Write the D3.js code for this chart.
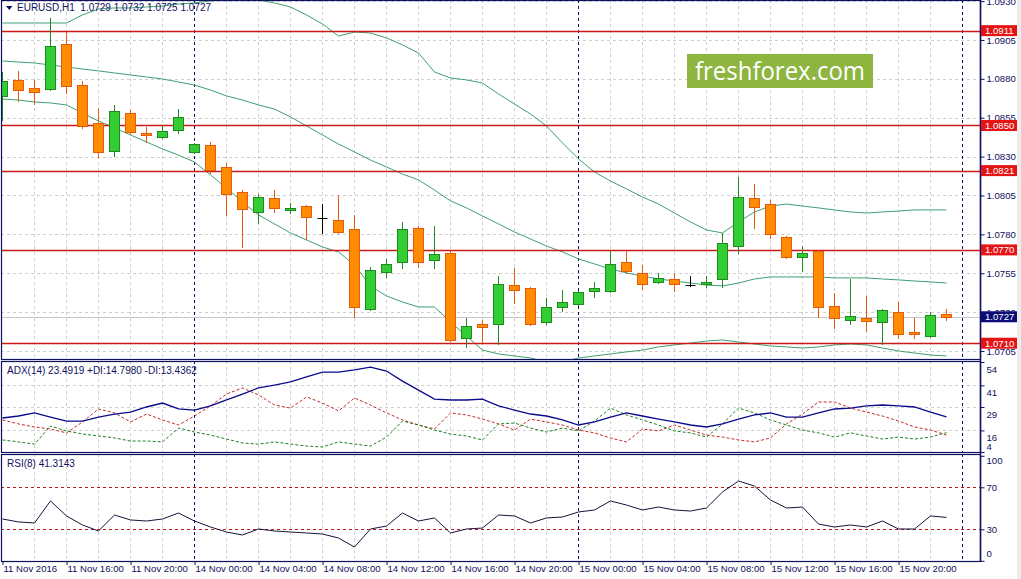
<!DOCTYPE html>
<html><head><meta charset="utf-8">
<script src="https://cdn.jsdelivr.net/npm/d3@7"></script>
<style>
body{margin:0;background:#fff;overflow:hidden}
svg{display:block}
text{font-family:"Liberation Sans",Arial,sans-serif}
</style>
</head><body>
<svg id="c" width="1021" height="579"></svg>
<script>
// ---------- DATA ----------
const symbolTitle = "EURUSD,H1  1.0729 1.0732 1.0725 1.0727";
const adxTitle = "ADX(14) 23.4919 +DI:14.7980 -DI:13.4362";
const rsiTitle = "RSI(8) 41.3143";
const brand = "freshforex.com";

const timeLabels = ["11 Nov 2016","11 Nov 16:00","11 Nov 20:00","14 Nov 00:00","14 Nov 04:00","14 Nov 08:00","14 Nov 12:00","14 Nov 16:00","14 Nov 20:00","15 Nov 00:00","15 Nov 04:00","15 Nov 08:00","15 Nov 12:00","15 Nov 16:00","15 Nov 20:00"];
const timeLabelBars = [0,4,8,12,16,20,24,28,32,36,40,44,48,52,56];
const daySeparatorBars = [12,36,60];

const openP  = [1.08690,1.08793,1.08741,1.08735,1.09024,1.08760,1.08516,1.08336,1.08580,1.08452,1.08426,1.08471,1.08330,1.08375,1.08233,1.08072,1.07944,1.08034,1.07957,1.07982,1.07905,1.07892,1.07835,1.07320,1.07558,1.07622,1.07841,1.07635,1.07680,1.07134,1.07224,1.07224,1.07474,1.07455,1.07236,1.07333,1.07352,1.07436,1.07436,1.07622,1.07552,1.07494,1.07513,1.07474,1.07481,1.07513,1.07725,1.08034,1.07995,1.07783,1.07655,1.07693,1.07339,1.07249,1.07262,1.07236,1.07301,1.07172,1.07146,1.07290];
const highP  = [1.08844,1.08851,1.08793,1.09191,1.09101,1.08786,1.08613,1.08632,1.08600,1.08490,1.08497,1.08606,1.08388,1.08394,1.08259,1.08085,1.08060,1.08085,1.08002,1.07989,1.07995,1.08053,1.07925,1.07590,1.07642,1.07880,1.07854,1.07854,1.07693,1.07262,1.07249,1.07532,1.07584,1.07462,1.07391,1.07442,1.07436,1.07494,1.07693,1.07693,1.07603,1.07552,1.07545,1.07532,1.07532,1.07809,1.08169,1.08124,1.08021,1.07790,1.07725,1.07700,1.07423,1.07513,1.07404,1.07320,1.07365,1.07262,1.07301,1.07320];
const lowP   = [1.08535,1.08658,1.08638,1.08728,1.08709,1.08484,1.08298,1.08304,1.08445,1.08394,1.08419,1.08452,1.08323,1.08195,1.07925,1.07719,1.07873,1.07944,1.07937,1.07770,1.07809,1.07809,1.07269,1.07314,1.07526,1.07584,1.07590,1.07584,1.07114,1.07076,1.07108,1.07093,1.07359,1.07217,1.07224,1.07307,1.07346,1.07399,1.07429,1.07552,1.07449,1.07487,1.07436,1.07468,1.07462,1.07462,1.07680,1.07841,1.07777,1.07648,1.07565,1.07269,1.07198,1.07224,1.07179,1.07093,1.07134,1.07134,1.07140,1.07250];
const closeP = [1.08786,1.08728,1.08715,1.09011,1.08753,1.08497,1.08330,1.08593,1.08458,1.08439,1.08465,1.08555,1.08381,1.08214,1.08060,1.07963,1.08040,1.07969,1.07969,1.07912,1.07905,1.07815,1.07333,1.07571,1.07610,1.07835,1.07622,1.07674,1.07121,1.07211,1.07204,1.07481,1.07442,1.07224,1.07333,1.07365,1.07429,1.07455,1.07610,1.07565,1.07481,1.07520,1.07481,1.07474,1.07494,1.07745,1.08040,1.07976,1.07802,1.07655,1.07680,1.07333,1.07262,1.07275,1.07243,1.07314,1.07159,1.07159,1.07281,1.07270];

const bbUpper  = [1.09159,1.09159,1.09159,1.09159,1.09159,1.09211,1.09249,1.09256,1.09256,1.09262,1.09268,1.09281,1.09288,1.09301,1.09307,1.09313,1.09307,1.09288,1.09262,1.09211,1.09153,1.09075,1.09101,1.09095,1.09063,1.09018,1.08966,1.08844,1.08806,1.08793,1.08773,1.08703,1.08638,1.08574,1.08497,1.08388,1.08285,1.08201,1.08143,1.08092,1.08040,1.07995,1.07937,1.07880,1.07828,1.07809,1.07880,1.07944,1.07982,1.07995,1.07982,1.07970,1.07957,1.07944,1.07937,1.07944,1.07950,1.07957,1.07957,1.07957];
const bbMiddle = [1.08915,1.08908,1.08902,1.08889,1.08876,1.08863,1.08851,1.08838,1.08825,1.08812,1.08799,1.08780,1.08760,1.08728,1.08690,1.08664,1.08632,1.08606,1.08555,1.08497,1.08439,1.08381,1.08330,1.08278,1.08233,1.08188,1.08150,1.08085,1.08015,1.07970,1.07918,1.07867,1.07815,1.07770,1.07725,1.07687,1.07642,1.07610,1.07577,1.07552,1.07532,1.07513,1.07500,1.07487,1.07474,1.07468,1.07487,1.07513,1.07526,1.07526,1.07526,1.07526,1.07520,1.07520,1.07520,1.07513,1.07507,1.07500,1.07494,1.07487];
const bbLower  = [1.08670,1.08664,1.08651,1.08645,1.08632,1.08580,1.08529,1.08484,1.08439,1.08394,1.08349,1.08310,1.08265,1.08182,1.08098,1.08008,1.07925,1.07867,1.07809,1.07764,1.07719,1.07687,1.07603,1.07468,1.07404,1.07365,1.07333,1.07333,1.07236,1.07146,1.07056,1.07031,1.07018,1.07005,1.06979,1.06979,1.07005,1.07018,1.07031,1.07044,1.07056,1.07076,1.07089,1.07101,1.07114,1.07121,1.07108,1.07095,1.07082,1.07076,1.07069,1.07076,1.07089,1.07095,1.07089,1.07069,1.07050,1.07037,1.07024,1.07018];

const adxLine = [22.9,24.0,25.7,23.4,21.2,21.2,23.4,25.1,26.2,29.0,31.2,27.9,27.3,29.6,32.9,36.2,39.6,41.2,42.9,45.7,48.4,48.4,49.6,51.2,49.0,43.4,38.4,33.4,32.9,32.9,33.4,29.6,27.3,25.1,24.0,21.8,19.0,20.7,23.4,25.7,24.0,22.3,20.7,19.0,17.9,19.6,22.3,24.6,25.7,23.4,23.4,25.7,27.9,28.4,29.6,30.1,29.6,29.0,26.2,23.49];
const plusDI  = [10.7,9.6,8.4,18.4,15.7,14.0,12.9,11.8,10.1,10.1,9.6,17.3,15.1,13.4,11.2,9.0,8.4,9.6,8.4,7.3,6.8,9.6,8.4,7.3,12.3,21.2,19.0,16.2,14.0,12.9,10.7,19.6,20.1,17.3,15.1,17.3,15.7,21.2,28.4,24.6,21.8,19.0,15.7,14.6,12.3,19.6,28.4,25.7,21.8,19.0,16.2,14.6,12.3,14.6,12.9,11.2,12.3,11.2,12.3,14.80];
const minusDI = [21.8,19.6,17.9,16.8,14.6,20.7,27.9,25.7,20.7,25.1,21.8,19.0,24.0,29.6,36.2,39.6,35.7,30.1,28.4,34.6,31.2,26.8,34.0,30.1,25.7,21.8,19.0,16.8,25.7,24.6,22.3,19.6,16.2,22.3,20.7,19.0,16.2,14.6,11.8,9.6,16.8,15.7,19.0,16.2,13.4,12.3,10.7,9.6,11.8,19.6,25.1,31.8,31.8,28.4,26.2,24.0,21.2,17.9,16.2,13.44];

const rsiLine = [39.8,37.0,36.0,57.0,42.7,34.1,28.4,43.6,38.9,37.9,39.8,45.5,37.9,32.2,27.4,24.6,30.3,28.4,27.4,26.5,25.5,21.7,13.1,30.3,33.1,45.5,37.9,40.8,26.5,30.3,31.2,43.6,42.7,36.0,40.8,41.7,46.5,48.4,57.0,53.1,48.4,51.2,48.4,47.4,50.3,65.5,76.0,71.2,57.9,50.3,51.2,35.0,32.2,34.1,32.2,37.9,30.3,30.3,42.7,41.31];

const levelPrices = [1.0911,1.0850,1.0821,1.0770,1.0710];
const lastPrice = 1.0727;
const priceTickValues = [1.0930,1.0905,1.0880,1.0855,1.0830,1.0805,1.0780,1.0755,1.0730,1.0705];
const adxTickValues = [54,41,29,16,4];
const adxGridValues = [41,29,16];
const rsiTickValues = [100,70,30,0];
const rsiLevelValues = [70,30];

// ---------- LAYOUT ----------
const L = 1, R = 980;
const mainP = {top:0, bottom:359};
const adxP = {top:361, bottom:452};
const rsiP = {top:454, bottom:561};

const navy = "#101060";
const gridCol = "#cfcfcf";

const svg = d3.select("#c");
svg.append("rect").attr("width",1021).attr("height",579).attr("fill","#fff");
svg.append("rect").attr("x",1017).attr("y",0).attr("width",4).attr("height",579).attr("fill","#ececec");

const nBars = closeP.length;
const x = d3.scaleLinear().domain([0,60]).range([2,962]);
const yP = d3.scaleLinear().domain([1.06992,1.09307]).range([360,0]);
const yA = d3.scaleLinear().domain([4,54]).range([452,362]);
const yR = d3.scaleLinear().domain([0,100]).range([560.8,455.8]);

const defs = svg.append("defs");
[["cm",mainP],["ca",adxP],["cr",rsiP]].forEach(([id,p])=>{
  defs.append("clipPath").attr("id",id).append("rect")
    .attr("x",L+1).attr("y",p.top).attr("width",R-L-1).attr("height",p.bottom-p.top);
});

const gMain = svg.append("g").attr("clip-path","url(#cm)");
const gAdx = svg.append("g").attr("clip-path","url(#ca)");
const gRsi = svg.append("g").attr("clip-path","url(#cr)");

const cx = i => Math.round(x(i)) + 0.5;
const crisp = v => Math.round(v) + 0.5;

// vertical grid (every 2 bars) in all panels
const vGrid = d3.range(2,60,2);
[[gMain,mainP],[gAdx,adxP],[gRsi,rsiP]].forEach(([g,p])=>{
  g.selectAll(null).data(vGrid).join("line")
    .attr("x1",d=>cx(d)).attr("x2",d=>cx(d)).attr("y1",p.top).attr("y2",p.bottom)
    .attr("stroke",gridCol).attr("stroke-dasharray","3,3");
});
// horizontal grid
gMain.selectAll(null).data(priceTickValues).join("line")
  .attr("x1",L).attr("x2",R).attr("y1",d=>crisp(yP(d))).attr("y2",d=>crisp(yP(d)))
  .attr("stroke",gridCol).attr("stroke-dasharray","3,3");
gAdx.selectAll(null).data(adxGridValues).join("line")
  .attr("x1",L).attr("x2",R).attr("y1",d=>crisp(yA(d))).attr("y2",d=>crisp(yA(d)))
  .attr("stroke",gridCol).attr("stroke-dasharray","3,3");

// logo
gMain.append("rect").attr("x",687).attr("y",54).attr("width",186).attr("height",34).attr("fill","#8db53f");
gMain.append("text").attr("x",695).attr("y",80).attr("fill","#fff")
  .style("font-family","'Open Sans','Noto Sans',sans-serif").style("font-size","25px")
  .attr("textLength",170).attr("lengthAdjust","spacingAndGlyphs").text(brand);

// day separators
[[gMain,mainP],[gAdx,adxP],[gRsi,rsiP]].forEach(([g,p])=>{
  g.selectAll(null).data(daySeparatorBars).join("line")
    .attr("x1",d=>cx(d)).attr("x2",d=>cx(d)).attr("y1",p.top).attr("y2",p.bottom)
    .attr("stroke",navy).attr("stroke-dasharray","3,3");
});

// bollinger bands
const bandLine = d3.line().x((d,i)=>cx(i)).y(d=>yP(d));
[bbUpper,bbMiddle,bbLower].forEach(arr=>{
  gMain.append("path").attr("d",bandLine(arr)).attr("fill","none")
    .attr("stroke","#3f9f72").attr("stroke-width",1);
});

// level lines
gMain.selectAll(null).data(levelPrices).join("line")
  .attr("x1",L).attr("x2",R).attr("y1",d=>crisp(yP(d))).attr("y2",d=>crisp(yP(d)))
  .attr("stroke","#cc1a1a").attr("stroke-width",1.3);
// current price line
gMain.append("line").attr("x1",L).attr("x2",R)
  .attr("y1",crisp(yP(lastPrice))).attr("y2",crisp(yP(lastPrice)))
  .attr("stroke","#c8c8c8");

// candles
const idx = d3.range(nBars);
const cg = gMain.selectAll(null).data(idx).join("g");
const colorOf = i => closeP[i] > openP[i] ? "bull" : (closeP[i] < openP[i] ? "bear" : "doji");
const wickCol = {bull:"#1f8a1f", bear:"#e85a0c", doji:"#000"};
const bodyFill = {bull:"#32cd32", bear:"#ff8c00", doji:"#000"};
const bodyStroke = {bull:"#1f8a1f", bear:"#e85a0c", doji:"#000"};
cg.append("line")
  .attr("x1",i=>cx(i)).attr("x2",i=>cx(i))
  .attr("y1",i=>Math.round(yP(highP[i]))).attr("y2",i=>Math.round(yP(lowP[i]))+1)
  .attr("stroke",i=>wickCol[colorOf(i)]).attr("stroke-width",1);
cg.each(function(i){
  const g = d3.select(this);
  const t = colorOf(i);
  if (t === "doji") {
    g.append("line").attr("x1",cx(i)-5).attr("x2",cx(i)+5)
      .attr("y1",crisp(yP(openP[i]))).attr("y2",crisp(yP(openP[i])))
      .attr("stroke","#000");
  } else {
    const yt = Math.round(yP(Math.max(openP[i],closeP[i])));
    let yb = Math.round(yP(Math.min(openP[i],closeP[i])));
    if (yb - yt < 2) yb = yt + 2;
    g.append("rect").attr("x",cx(i)-5).attr("y",yt+0.5).attr("width",10).attr("height",yb-yt)
      .attr("fill",bodyFill[t]).attr("stroke",bodyStroke[t]).attr("stroke-width",1);
  }
});

// ADX panel lines
const aLine = d3.line().x((d,i)=>cx(i)).y(d=>yA(d));
gAdx.append("path").attr("d",aLine(minusDI)).attr("fill","none").attr("stroke","#c82a2a").attr("stroke-dasharray","3,2");
gAdx.append("path").attr("d",aLine(plusDI)).attr("fill","none").attr("stroke","#1f7f1f").attr("stroke-dasharray","3,2");
gAdx.append("path").attr("d",aLine(adxLine)).attr("fill","none").attr("stroke","#0a0a8c").attr("stroke-width",1.3);

// RSI panel
gRsi.selectAll(null).data(rsiLevelValues).join("line")
  .attr("x1",L).attr("x2",R).attr("y1",d=>crisp(yR(d))).attr("y2",d=>crisp(yR(d)))
  .attr("stroke","#c01818").attr("stroke-dasharray","3,3");
const rLine = d3.line().x((d,i)=>cx(i)).y(d=>yR(d));
gRsi.append("path").attr("d",rLine(rsiLine)).attr("fill","none").attr("stroke","#14143c").attr("stroke-width",1);

// panel borders
[mainP,adxP,rsiP].forEach(p=>{
  svg.append("rect").attr("x",L+0.5).attr("y",p.top+0.5).attr("width",R-L).attr("height",p.bottom-p.top)
    .attr("fill","none").attr("stroke",navy).attr("stroke-width",1.2);
});
svg.append("line").attr("x1",R+0.5).attr("x2",R+0.5).attr("y1",0).attr("y2",rsiP.bottom+1)
  .attr("stroke",navy).attr("stroke-width",1.5);

// axes
const fmt = d3.format(".4f");
const axP = svg.append("g").attr("transform",`translate(${R+0.5},0)`)
  .call(d3.axisRight(yP).tickValues(priceTickValues).tickFormat(fmt).tickSize(4).tickPadding(2));
const axA = svg.append("g").attr("transform",`translate(${R+0.5},0)`)
  .call(d3.axisRight(yA).tickValues(adxTickValues).tickFormat(d3.format("d")).tickSize(4).tickPadding(2));
const axR = svg.append("g").attr("transform",`translate(${R+0.5},0)`)
  .call(d3.axisRight(yR).tickValues(rsiTickValues).tickFormat(d3.format("d")).tickSize(4).tickPadding(2));
const axT = svg.append("g").attr("transform",`translate(0,${rsiP.bottom})`)
  .call(d3.axisBottom(x).tickValues(timeLabelBars).tickFormat((d,i)=>timeLabels[i]).tickSize(4).tickPadding(2));

[axP,axA,axR,axT].forEach(a=>{
  a.select(".domain").remove();
  a.selectAll("line").attr("stroke",navy);
  a.selectAll("text").attr("fill",navy).style("font-family","'Liberation Sans',Arial,sans-serif").style("font-size","9.6px");
});
axA.selectAll(".tick text").attr("y",d=> d===4 ? -6 : 7.5);
axR.selectAll(".tick text").attr("y",d=> d===100 ? 5 : (d===0 ? -7 : 0));
axT.selectAll(".tick line").attr("transform","translate(0.5,0)");
axT.selectAll(".tick text").attr("text-anchor","start").attr("x",1).attr("y",4).attr("dy","0.71em");

// price label boxes
const boxG = svg.append("g");
levelPrices.forEach(p=>{
  const yy = yP(p);
  boxG.append("rect").attr("x",R+1).attr("y",yy-5.5).attr("width",36).attr("height",11).attr("fill","#e41414");
  boxG.append("text").attr("x",R+5).attr("y",yy).attr("dy","0.35em").attr("fill","#fff")
    .style("font-size","9.6px").text(fmt(p));
});
{
  const yy = yP(lastPrice);
  boxG.append("rect").attr("x",R+1).attr("y",yy-5.5).attr("width",36).attr("height",11).attr("fill","#0c0c78");
  boxG.append("text").attr("x",R+5).attr("y",yy).attr("dy","0.35em").attr("fill","#fff")
    .style("font-size","9.6px").text(fmt(lastPrice));
}

// titles
svg.append("path").attr("d","M6,6 L12.5,6 L9.25,10 Z").attr("fill",navy);
svg.append("text").attr("x",17).attr("y",7.5).attr("dy","0.35em").attr("fill",navy)
  .style("font-size","10px").style("white-space","pre").attr("xml:space","preserve").text(symbolTitle);
svg.append("text").attr("x",7).attr("y",370.5).attr("dy","0.35em").attr("fill",navy)
  .style("font-size","10px").text(adxTitle);
svg.append("text").attr("x",7).attr("y",463).attr("dy","0.35em").attr("fill",navy)
  .style("font-size","10px").text(rsiTitle);
</script>
</body></html>
